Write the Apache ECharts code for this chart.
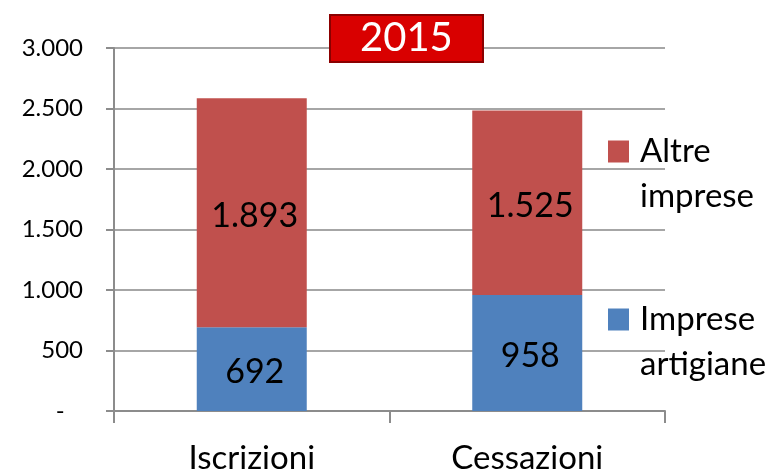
<!DOCTYPE html>
<html>
<head>
<meta charset="utf-8">
<script src="https://cdn.jsdelivr.net/npm/echarts@6/dist/echarts.min.js"></script>
<style>
  html, body { margin: 0; padding: 0; background: #fff; }
  #chart { width: 777px; height: 475px; }
</style>
</head>
<body>
<div id="chart"></div>
<script>
// dati
const categories = ['Iscrizioni', 'Cessazioni'];
const artigiane = [692, 958];
const altre = [1893, 1525];
const yTicks = [0, 500, 1000, 1500, 2000, 2500, 3000];
const titleText = '2015';

const FONT = 'Lato';

// separatore migliaia con il punto
function fmt(v) {
  if (v === 0) return '-   ';
  return String(v).replace(/\B(?=(\d{3})+(?!\d))/g, '.');
}

// riga vuota in testa: cosi' il quadratino si allinea alla prima riga
function legendName(name) {
  return '\n' + name.replace(' ', '\n');
}

const chart = echarts.init(document.getElementById('chart'));

const legendText = { fontFamily: FONT, fontSize: 33, color: '#000', lineHeight: 45, padding: [0, 0, 0, 6] };
const barLabel = { show: true, position: 'inside', offset: [3, 3], color: '#000', fontFamily: FONT, fontSize: 34, formatter: p => fmt(p.value) };

const option = {
  animation: false,
  textStyle: { fontFamily: FONT },
  title: {
    text: titleText,
    left: 330,
    top: 15,
    padding: [2, 30, 2, 30],
    backgroundColor: '#d90000',
    borderColor: '#8b0000',
    borderWidth: 2,
    textStyle: {
      color: '#fff',
      fontFamily: FONT,
      fontWeight: 'normal',
      fontSize: 40,
      lineHeight: 43
    }
  },
  legend: [
    {
      data: ['Altre imprese'],
      left: 608,
      top: 84,
      padding: 0,
      icon: 'rect',
      itemWidth: 21,
      itemHeight: 22,
      selectedMode: false,
      formatter: legendName,
      textStyle: legendText
    },
    {
      data: ['Imprese artigiane'],
      left: 608,
      top: 252,
      padding: 0,
      icon: 'rect',
      itemWidth: 21,
      itemHeight: 22,
      selectedMode: false,
      formatter: legendName,
      textStyle: legendText
    }
  ],
  grid: {
    left: 114,
    right: 112,
    top: 48,
    bottom: 63
  },
  xAxis: {
    type: 'category',
    data: categories,
    axisLine: { lineStyle: { color: '#8c8c8c', width: 2 } },
    axisTick: { show: true, length: 12, lineStyle: { color: '#8c8c8c', width: 2 } },
    axisLabel: { color: '#000', fontFamily: FONT, fontSize: 33, margin: 31 }
  },
  yAxis: {
    type: 'value',
    min: yTicks[0],
    max: yTicks[yTicks.length - 1],
    interval: 500,
    axisLine: { show: true, lineStyle: { color: '#8c8c8c', width: 2 } },
    axisTick: { show: true, length: 8, lineStyle: { color: '#8c8c8c', width: 2 } },
    splitLine: { lineStyle: { color: '#a6a6a6', width: 2 } },
    axisLabel: { color: '#000', fontFamily: FONT, fontSize: 24, margin: 31, formatter: fmt }
  },
  series: [
    {
      name: 'Imprese artigiane',
      type: 'bar',
      stack: 'tot',
      barWidth: 110,
      data: artigiane,
      itemStyle: { color: '#4f81bd' },
      label: barLabel
    },
    {
      name: 'Altre imprese',
      type: 'bar',
      stack: 'tot',
      barWidth: 110,
      data: altre,
      itemStyle: { color: '#c0504d' },
      label: barLabel
    }
  ]
};

chart.setOption(option);
</script>
</body>
</html>
